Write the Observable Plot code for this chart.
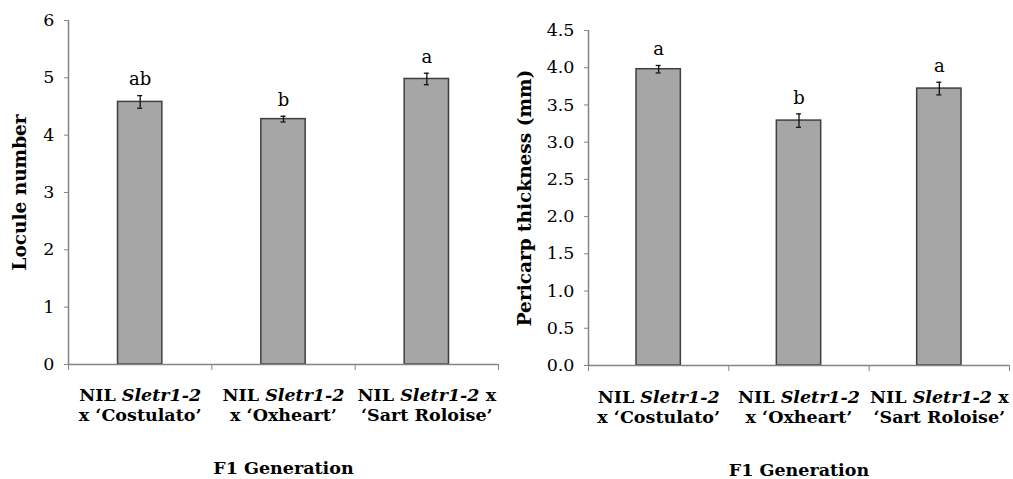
<!DOCTYPE html>
<html><head><meta charset="utf-8">
<script src="https://cdn.jsdelivr.net/npm/d3@7"></script>
<script src="https://cdn.jsdelivr.net/npm/@observablehq/plot@0.6"></script>
<style>
body{margin:0;background:#fff;}
#wrap{display:flex;width:1013px;height:479px;overflow:hidden;}
#wrap svg{font-family:"DejaVu Serif",serif;overflow:visible;}
</style></head><body><div id="wrap"></div>
<script>
const categories = ["Costulato", "Oxheart", "Sart Roloise"];
const tickLabels = ["NIL Sletr1-2\nx ‘Costulato’", "NIL Sletr1-2\nx ‘Oxheart’", "NIL Sletr1-2 x\n‘Sart Roloise’"];
const xTitle = "F1 Generation";

const loculeMean = [4.58, 4.28, 4.98];
const loculeErr = [0.11, 0.05, 0.10];
const loculeLetters = ["ab", "b", "a"];
const loculeTicks = [0, 1, 2, 3, 4, 5, 6];

const pericarpMean = [3.98, 3.29, 3.72];
const pericarpErr = [0.05, 0.09, 0.085];
const pericarpLetters = ["a", "b", "a"];
const pericarpTicks = [0, 0.5, 1, 1.5, 2, 2.5, 3, 3.5, 4, 4.5];

const AXIS = "#858585", BAR = "#a6a6a6", BAR_STROKE = "#3f3f3f";

function makeChart(o) {
  const rows = categories.map((c, i) => ({i, label: tickLabels[i], mean: o.means[i], err: o.errs[i], letter: o.letters[i]}));
  const plot = Plot.plot({
    width: o.width, height: 479,
    marginLeft: o.marginLeft, marginRight: o.marginRight, marginTop: o.marginTop, marginBottom: o.marginBottom,
    style: {fontFamily: "DejaVu Serif, serif", fontSize: "17px", color: "#000", background: "#fff"},
    x: {domain: [0, categories.length], axis: null},
    y: {domain: o.yDomain, axis: null},
    marks: [
      Plot.rect(rows, {x1: d => d.i, x2: d => d.i + 1, y1: 0, y2: "mean", insetLeft: o.inset, insetRight: o.inset, fill: BAR, stroke: BAR_STROKE, strokeWidth: 1.5}),
      Plot.ruleX(rows, {x: d => d.i + 0.5, y1: d => d.mean - d.err, y2: d => d.mean + d.err, stroke: "#111", strokeWidth: 1.3}),
      Plot.ruleY(rows, {y: d => d.mean - d.err, x1: d => d.i + 0.5, x2: d => d.i + 0.5, insetLeft: -2.5, insetRight: -2.5, stroke: "#111", strokeWidth: 1.3}),
      Plot.ruleY(rows, {y: d => d.mean + d.err, x1: d => d.i + 0.5, x2: d => d.i + 0.5, insetLeft: -2.5, insetRight: -2.5, stroke: "#111", strokeWidth: 1.3}),
      Plot.text(rows, {x: d => d.i + 0.5, y: d => d.mean + d.err, text: "letter", dy: -16, fontSize: 18}),
      Plot.ruleX([0], {y1: o.yDomain[0], y2: o.yDomain[1], stroke: AXIS, strokeWidth: 1.5}),
      Plot.ruleY([0], {stroke: AXIS, strokeWidth: 1.5}),
      Plot.axisY({ticks: o.yTicks, tickFormat: o.tickFormat, tickSize: 4, tickPadding: 10, stroke: AXIS, fontSize: 17.5, label: null}),
      Plot.axisX({ticks: d3.range(categories.length + 1), tickFormat: () => "", tickSize: 6, stroke: AXIS, label: null}),
      Plot.text(rows, {x: d => d.i + 0.5, text: "label", frameAnchor: "bottom", lineAnchor: "top", dy: o.labelDy, lineHeight: 1.15, fontWeight: "bold", fontSize: 17.5}),
      Plot.text([o.yTitle], {frameAnchor: "left", dx: -o.titleDx, rotate: -90, textAnchor: "middle", fontWeight: "bold", fontSize: 18.5}),
      Plot.text([xTitle], {frameAnchor: "bottom", dy: o.xTitleDy, fontWeight: "bold", fontSize: 17.5})
    ]
  });
  // italicise the gene name inside the tick labels
  plot.querySelectorAll("text, tspan").forEach(el => {
    if (el.children.length) return;
    const t = el.textContent;
    const key = "Sletr1-2";
    const k = t.indexOf(key);
    if (k < 0) return;
    el.textContent = "";
    el.appendChild(document.createTextNode(t.slice(0, k)));
    const it = document.createElementNS("http://www.w3.org/2000/svg", "tspan");
    it.setAttribute("font-style", "italic");
    it.textContent = key;
    el.appendChild(it);
    el.appendChild(document.createTextNode(t.slice(k + key.length)));
  });
  return plot;
}

const wrap = document.getElementById("wrap");
wrap.appendChild(makeChart({
  width: 500, marginLeft: 68, marginRight: 2, marginTop: 20, marginBottom: 115,
  yDomain: [0, 6], yTicks: loculeTicks, tickFormat: d3.format("d"),
  means: loculeMean, errs: loculeErr, letters: loculeLetters,
  yTitle: "Locule number", titleDx: 48, inset: 49.5, labelDy: 22, xTitleDy: 109
}));
wrap.appendChild(makeChart({
  width: 513, marginLeft: 88, marginRight: 4, marginTop: 30, marginBottom: 114,
  yDomain: [0, 4.5], yTicks: pericarpTicks, tickFormat: d3.format(".1f"),
  means: pericarpMean, errs: pericarpErr, letters: pericarpLetters,
  yTitle: "Pericarp thickness (mm)", titleDx: 63, inset: 48, labelDy: 23, xTitleDy: 110
}));
</script></body></html>
